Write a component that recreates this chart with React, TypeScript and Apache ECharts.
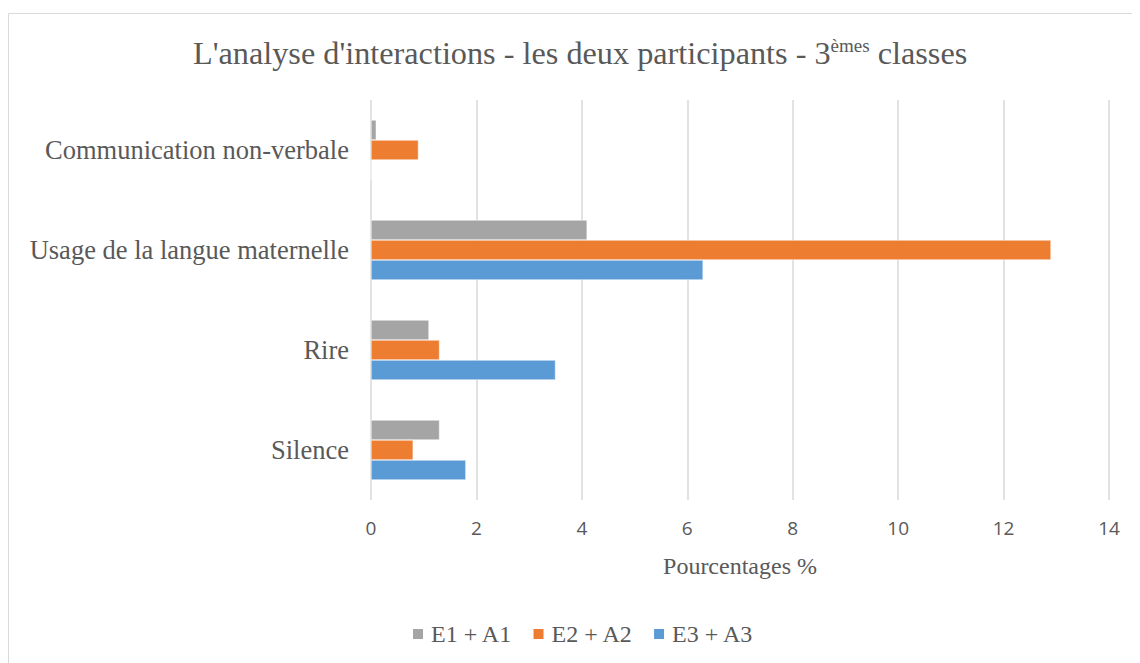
import React, { useEffect, useRef } from "react";
import * as echarts from "echarts";

const categories = ["Silence", "Rire", "Usage de la langue maternelle", "Communication non-verbale"];
const seriesNames = ["E1 + A1", "E2 + A2", "E3 + A3"];
const valuesE1 = [1.3, 1.1, 4.1, 0.1];
const valuesE2 = [0.8, 1.3, 12.9, 0.9];
const valuesE3 = [1.8, 3.5, 6.3, 0];
const colors = ["#A5A5A5", "#ED7D31", "#5B9BD5"];
const xTicks = [0, 2, 4, 6, 8, 10, 12, 14];

export default function App() {
  const ref = useRef<HTMLDivElement>(null);
  useEffect(() => {
    document.body.style.overflow = "hidden";
    const chart = echarts.init(ref.current!, null, { renderer: "svg" });
    const serif = "'Liberation Serif', 'Times New Roman', serif";
    const data = [valuesE1, valuesE2, valuesE3];
    chart.setOption({
      animation: false,
      backgroundColor: "#ffffff",
      title: {
        text: "L'analyse d'interactions - les deux participants - 3{sup|èmes} classes",
        left: 180,
        top: 23,
        textStyle: {
          fontFamily: serif,
          fontSize: 32.25,
          fontWeight: "normal",
          color: "#595959",
          rich: {
            sup: { fontFamily: serif, fontSize: 19, color: "#595959", verticalAlign: "top", padding: [0, 0, 14, 0] },
          },
        },
      },
      graphic: [
        {
          type: "rect",
          shape: { x: 0.5, y: 5.5, width: 1300, height: 900 },
          style: { fill: "none", stroke: "#d9d9d9", lineWidth: 1 },
          silent: true,
        },
      ],
      legend: {
        bottom: 12,
        left: 398,
        itemWidth: 12,
        itemHeight: 12,
        itemGap: 19,
        icon: "rect",
        data: seriesNames,
        textStyle: { fontFamily: serif, fontSize: 24, color: "#595959", padding: [0, 0, 0, 2] },
      },
      grid: { left: 363, right: 31, top: 92, bottom: 163, containLabel: false },
      xAxis: {
        type: "value",
        min: 0,
        max: 14,
        interval: 2,
        name: "Pourcentages %",
        nameLocation: "middle",
        nameGap: 54,
        nameTextStyle: { fontFamily: serif, fontSize: 24, color: "#595959" },
        axisLine: { show: false },
        axisTick: { show: false },
        axisLabel: {
          fontFamily: "'Open Sans', sans-serif",
          fontSize: 19,
          color: "#595959",
          margin: 18,
          customValues: xTicks,
        },
        splitLine: { show: true, lineStyle: { color: "#d9d9d9", width: 1.5 } },
      },
      yAxis: {
        type: "category",
        data: categories,
        axisLine: { show: false },
        axisTick: { show: false },
        axisLabel: { fontFamily: serif, fontSize: 26.5, color: "#595959", margin: 22 },
      },
      series: seriesNames.map((name, i) => ({
        name,
        type: "bar",
        data: data[i],
        barGap: "0%",
        barCategoryGap: "40%",
        itemStyle: { color: colors[i], borderColor: "#ffffff", borderWidth: 0.5 },
      })),
    });
    return () => chart.dispose();
  }, []);
  return <div ref={ref} style={{ width: 1132, height: 655 }} />;
}
